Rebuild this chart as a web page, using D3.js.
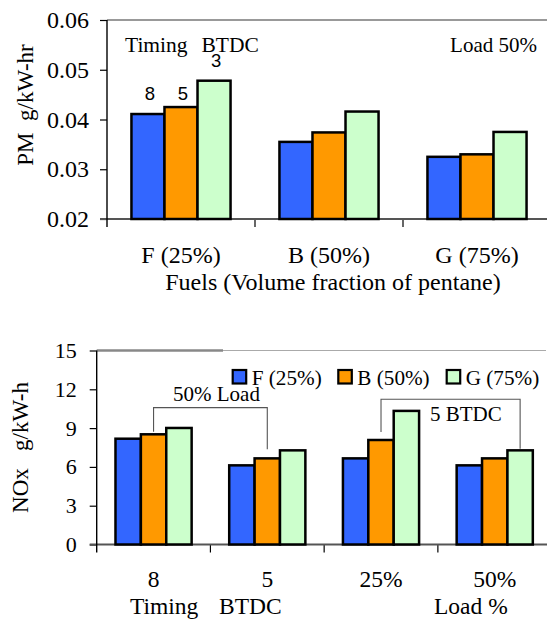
<!DOCTYPE html>
<html>
<head>
<meta charset="utf-8">
<script src="https://cdn.jsdelivr.net/npm/d3@7"></script>
<style>
  html, body { margin: 0; padding: 0; background: #fff; }
  svg { display: block; }
  text { font-family: "Liberation Serif", "Times New Roman", serif; fill: #000; white-space: pre; }
  .sans { font-family: "Liberation Sans", Arial, sans-serif; }
</style>
</head>
<body>
<svg id="chart" width="547" height="621"></svg>
<script>
// PM chart: fuels on the x axis, one bar per injection timing (BTDC)
const fuels = ["F (25%)", "B (50%)", "G (75%)"];
const timings = ["8", "5", "3"];
const pmTiming8 = [0.0411, 0.0355, 0.0325];
const pmTiming5 = [0.0425, 0.0374, 0.0330];
const pmTiming3 = [0.0478, 0.0416, 0.0375];
const pmTicks = [0.02, 0.03, 0.04, 0.05, 0.06];

// NOx chart: timing / load cases on the x axis, one bar per fuel
const noxCases = ["8", "5", "25%", "50%"];
const noxF = [8.18, 6.12, 6.66, 6.12];
const noxB = [8.52, 6.66, 8.08, 6.66];
const noxG = [9.01, 7.28, 10.33, 7.28];
const noxTicks = [0, 3, 6, 9, 12, 15];
const legendLabels = ["F (25%)", "B (50%)", "G (75%)"];

const colors = ["#3366FF", "#FF9900", "#CCFFCC"];
const svg = d3.select("#chart");
const W = 547;

function drawFrame(g, x, y, ticks, fmt, opts) {
  const [x0] = x.range();
  const [yb, yt] = y.range();
  // y axis ticks and labels
  const ax = g.append("g")
    .attr("transform", `translate(${x0},0)`)
    .call(d3.axisLeft(y).tickValues(ticks).tickFormat(fmt)
      .tickSize(7).tickSizeOuter(0).tickPadding(opts.tickPad));
  ax.select(".domain").remove();
  ax.selectAll(".tick line").attr("stroke", "#000").attr("stroke-width", 1.2);
  ax.selectAll(".tick text")
    .attr("font-family", "Liberation Serif, serif")
    .attr("font-size", opts.tickFont)
    .attr("fill", "#000");
  // top border
  opts.topBorder(g, x0, yt);
  // category separators below the x axis
  x.domain().slice(1).forEach(c => {
    g.append("line").attr("x1", x(c)).attr("x2", x(c))
      .attr("y1", yb).attr("y2", yb + 8)
      .attr("stroke", "#000").attr("stroke-width", 1.2);
  });
  // x axis baseline
  g.append("line").attr("x1", x0 - 7).attr("x2", W)
    .attr("y1", yb).attr("y2", yb)
    .attr("stroke", "#555").attr("stroke-width", 2);
  // y axis line
  g.append("line").attr("x1", x0).attr("x2", x0)
    .attr("y1", yt).attr("y2", yb + 8)
    .attr("stroke", "#000").attr("stroke-width", 1.4);
}

function drawBars(g, x, y, cats, series) {
  const inner = d3.scaleBand().domain(d3.range(series.length))
    .range([0, x.bandwidth()]).paddingInner(0).paddingOuter(0.74);
  const [yb] = y.range();
  cats.forEach((c, i) => {
    series.forEach((s, j) => {
      g.append("rect")
        .attr("x", x(c) + inner(j))
        .attr("width", inner.bandwidth())
        .attr("y", y(s[i]))
        .attr("height", yb - y(s[i]))
        .attr("fill", colors[j])
        .attr("stroke", "#000")
        .attr("stroke-width", 2.5);
    });
  });
  return inner;
}

// ---------- PM chart ----------
{
  const g = svg.append("g");
  const x = d3.scaleBand().domain(fuels).range([107, 551]).padding(0);
  const y = d3.scaleLinear().domain([0.02, 0.06]).range([219, 20]);
  const series = [pmTiming8, pmTiming5, pmTiming3];

  drawFrame(g, x, y, pmTicks, d3.format(".2f"), {
    tickPad: 11, tickFont: 24,
    topBorder: (g, x0, yt) => g.append("line").attr("x1", x0).attr("x2", W)
      .attr("y1", yt).attr("y2", yt).attr("stroke", "#999").attr("stroke-width", 2)
  });
  const inner = drawBars(g, x, y, fuels, series);

  // timing labels over the first fuel's bars
  const labelY = [100, 100, 67];
  timings.forEach((t, j) => {
    g.append("text").attr("class", "sans")
      .attr("x", x(fuels[0]) + inner(j) + inner.bandwidth() / 2 + 2)
      .attr("y", labelY[j])
      .attr("text-anchor", "middle").attr("font-size", 18.5)
      .text(t);
  });

  g.append("text").attr("font-size", 21.5).attr("y", 52)
    .call(t => {
      t.append("tspan").attr("x", 125).text("Timing");
      t.append("tspan").attr("x", 201.5).text("BTDC");
    });
  g.append("text").attr("font-size", 21).attr("x", 537).attr("y", 52)
    .attr("text-anchor", "end").text("Load 50%");

  // category labels and axis titles
  fuels.forEach(f => {
    g.append("text").attr("x", x(f) + x.bandwidth() / 2).attr("y", 262.5)
      .attr("text-anchor", "middle").attr("font-size", 24).text(f);
  });
  g.append("text").attr("x", 333).attr("y", 290)
    .attr("text-anchor", "middle").attr("font-size", 24)
    .text("Fuels (Volume fraction of pentane)");
  g.append("text").attr("transform", "translate(33,105) rotate(-90)")
    .attr("text-anchor", "middle").attr("font-size", 23)
    .text("PM  g/kW-hr");
}

// ---------- NOx chart ----------
{
  const g = svg.append("g");
  const x = d3.scaleBand().domain(noxCases).range([96.7, 551.6]).padding(0);
  const y = d3.scaleLinear().domain([0, 15]).range([544.5, 350.5]);
  const series = [noxF, noxB, noxG];

  drawFrame(g, x, y, noxTicks, d3.format("d"), {
    tickPad: 13, tickFont: 22,
    topBorder: (g, x0, yt) => {
      g.append("line").attr("x1", 223).attr("x2", W - 1)
        .attr("y1", yt).attr("y2", yt).attr("stroke", "#aaa").attr("stroke-width", 1.2);
      g.append("line").attr("x1", x0).attr("x2", 223)
        .attr("y1", yt).attr("y2", yt).attr("stroke", "#888").attr("stroke-width", 2.5);
    }
  });
  const inner = drawBars(g, x, y, noxCases, series);
  const barMid = (c, j) => x(c) + inner(j) + inner.bandwidth() / 2;

  // brackets linking bars that share a setting
  const bracket = (c1, j1, c2, j2, top, gap1, gap2) => {
    const xa = barMid(c1, j1), xb = barMid(c2, j2);
    const v1 = series[j1][noxCases.indexOf(c1)], v2 = series[j2][noxCases.indexOf(c2)];
    g.append("path")
      .attr("d", `M${xa},${y(v1) - gap1}V${y(top)}H${xb}V${y(v2) - gap2}`)
      .attr("fill", "none").attr("stroke", "#555").attr("stroke-width", 1.1);
  };
  bracket("8", 1, "5", 1, 10.58, 2.5, 9);
  bracket("25%", 1, "50%", 2, 11.23, 8, 1.5);
  g.append("text").attr("x", 173).attr("y", 400.5).attr("font-size", 21).text("50% Load");
  g.append("text").attr("x", 430).attr("y", 421).attr("font-size", 21).text("5 BTDC");

  // legend
  const legX = [232.7, 338.3, 446.7];
  legendLabels.forEach((l, j) => {
    g.append("rect").attr("x", legX[j]).attr("y", 370).attr("width", 13.5).attr("height", 13.5)
      .attr("fill", colors[j]).attr("stroke", "#000").attr("stroke-width", 2.2);
    g.append("text").attr("x", legX[j] + 19).attr("y", 384.5).attr("font-size", 21.2).text(l);
  });

  // category labels and axis titles
  noxCases.forEach(c => {
    g.append("text").attr("x", x(c) + x.bandwidth() / 2).attr("y", 587)
      .attr("text-anchor", "middle").attr("font-size", 23.5).text(c);
  });
  g.append("text").attr("font-size", 23.5).attr("y", 614)
    .call(t => {
      t.append("tspan").attr("x", 130).text("Timing");
      t.append("tspan").attr("x", 219).text("BTDC");
    });
  g.append("text").attr("x", 434).attr("y", 614).attr("font-size", 23.5).text("Load %");
  g.append("text").attr("transform", "translate(28,447.5) rotate(-90)")
    .attr("text-anchor", "middle").attr("font-size", 23)
    .text("NOx   g/kW-h");
}
</script>
</body>
</html>
